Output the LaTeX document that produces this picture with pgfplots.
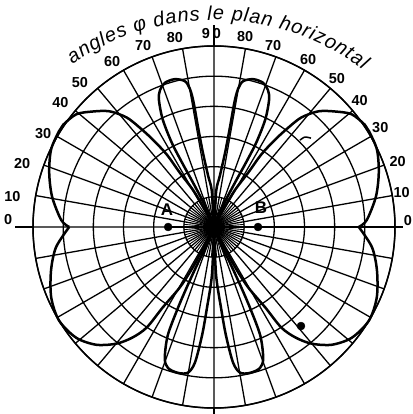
\documentclass[border=0pt]{standalone}
\usepackage{fontspec}
\setmainfont{Liberation Sans}
\newfontfamily\lab{Liberation Sans}
\usepackage{pgfplots}
\pgfplotsset{compat=1.18}
\usepgfplotslibrary{polar}
\usetikzlibrary{calc,decorations.text}
\begin{document}
\begin{tikzpicture}
\begin{polaraxis}[
    width=362bp, height=362bp, scale only axis,
    xmin=0, xmax=360, ymin=0, ymax=6,
    xtick={0,10,...,350}, ytick={1,...,6},
    xticklabels={}, yticklabels={},
    major tick length=0pt,
    grid=major,
    major grid style={black, line width=1.3bp},
    axis line style={black, line width=1.5bp},
    clip=false,
]
\coordinate (c) at (axis cs:0,0);

% dense rays in the inner ring
\pgfplotsinvokeforeach{5,15,...,355}{
  \addplot[black, line width=0.9bp] coordinates {(#1,0) (#1,1)};
}
% axis lines running past the rim
\addplot[black, line width=1.3bp] coordinates {(90,6) (90,6.7)};
\addplot[black, line width=1.3bp] coordinates {(270,6) (270,6.25)};
\addplot[black, line width=1.3bp] coordinates {(180,6) (180,6.6)};
\addplot[black, line width=1.3bp] coordinates {(0,6) (0,6.25)};

% big side lobes
\addplot[black, line width=2.5bp, smooth] coordinates {
  (118,0) (118,0.7) (119.6,1.42) (122.2,2.13) (123.1,2.87) (125,3.54) (126.8,4.12)
  (128.6,4.65) (132.1,5.17) (136.5,5.56) (140.7,5.9) (145.9,6.04) (148.3,6.04)
  (154.6,5.98) (161.8,5.75) (169.4,5.46) (177.4,5.07) (180,4.8)};
\addplot[black, line width=2.5bp, smooth] coordinates {
  (180,4.8) (187.3,5.28) (194.9,5.59) (203.4,5.88) (211.1,6.0) (218.8,5.86)
  (225,5.52) (230.1,5.04) (233.6,4.55) (236.2,4.01) (237.5,3.16) (240.5,2.3)
  (242.3,1.5) (242,0.6) (242,0)};
\addplot[black, line width=2.5bp, smooth] coordinates {
  (62,0) (62,0.7) (60.4,1.42) (57.8,2.13) (56.9,2.87) (55,3.54) (53.2,4.12)
  (51.4,4.65) (47.9,5.17) (43.5,5.56) (39.3,5.9) (34.1,6.04) (31.7,6.04)
  (25.4,5.98) (18.2,5.75) (10.6,5.46) (2.6,5.07) (0,4.8)};
\addplot[black, line width=2.5bp, smooth] coordinates {
  (360,4.8) (352.7,5.28) (345.1,5.59) (336.6,5.88) (328.9,6.0) (321.2,5.86)
  (315,5.52) (309.9,5.04) (306.4,4.55) (303.8,4.01) (302.5,3.16) (299.5,2.3)
  (297.7,1.5) (298,0.6) (298,0)};

% narrow lobes
\addplot[black, line width=2.5bp, smooth] coordinates {
  (94,0) (93.5,1.2) (96.5,1.7) (98.5,2.5) (99.1,3.38) (99.3,4.19) (99.9,4.65)
  (101.3,4.93) (104.9,5.07) (108.8,5.05) (111.5,4.88) (113.4,4.6) (115.5,3.95)
  (116.6,3.13) (116.4,2.39) (115.5,1.73) (114,1.1) (110,0.5) (105,0)};
\addplot[black, line width=2.5bp, smooth] coordinates {
  (86,0) (86.5,1.2) (83.5,1.7) (81.5,2.5) (80.9,3.38) (80.7,4.19) (80.1,4.65)
  (78.7,4.93) (75.1,5.07) (71.2,5.05) (68.5,4.88) (66.6,4.6) (64.5,3.95)
  (63.4,3.13) (63.6,2.39) (64.5,1.73) (66,1.1) (70,0.5) (75,0)};
\addplot[black, line width=2.5bp, smooth] coordinates {
  (268,0) (267.5,1.6) (265,2.71) (263.7,3.62) (262,4.54) (259.8,4.91) (256,4.98)
  (252,4.92) (249.5,4.66) (246.9,3.91) (246,2.95) (245.7,2.12) (246,1.3)
  (249,0.6) (255,0)};
\addplot[black, line width=2.5bp, smooth] coordinates {
  (272,0) (272.5,1.6) (275,2.71) (276.3,3.62) (278,4.54) (280.2,4.91) (284,4.98)
  (288,4.92) (290.5,4.66) (293.1,3.91) (294,2.95) (294.3,2.12) (294,1.3)
  (291,0.6) (285,0)};

% A - B dipole, centre blob, marks
\addplot[black, line width=2.8bp] coordinates {(180,1.52) (0,0) (0,1.46)};
\addplot[black, only marks, mark=*, mark size=4] coordinates {(180,1.52) (0,1.46) (311.3,4.37)};
\addplot[black, only marks, mark=*, mark size=6.5] coordinates {(0,0)};
\addplot[black, line width=1.5bp, smooth] coordinates {(45.3,4.05) (44.7,4.24) (42.5,4.36)};

% angle labels
\begin{scope}[every node/.style={font=\lab\bfseries\fontsize{14.5}{16}\selectfont, inner sep=0pt}]
\node at (axis cs:101.7,6.40) {80};
\node at (axis cs:111.3,6.46) {70};
\node at (axis cs:121.7,6.43) {60};
\node at (axis cs:132.9,6.53) {50};
\node at (axis cs:140.9,6.56) {40};
\node at (axis cs:151.2,6.46) {30};
\node at (axis cs:161.6,6.70) {20};
\node at (axis cs:171.5,6.76) {10};
\node at (axis cs:178,6.83) {0};
\node at (axis cs:90.8,6.43) {9\kern3pt0};
\node at (axis cs:80.7,6.40) {80};
\node at (axis cs:72,6.34) {70};
\node at (axis cs:60.6,6.36) {60};
\node at (axis cs:50.5,6.40) {50};
\node at (axis cs:41,6.40) {40};
\node at (axis cs:31,6.43) {30};
\node at (axis cs:19.5,6.46) {20};
\node at (axis cs:10.5,6.33) {10};
\node at (axis cs:2,6.43) {0};
\end{scope}
\end{polaraxis}

\node[font=\lab\bfseries\fontsize{17}{19}\selectfont] at ($(c)+(-47bp,17bp)$) {A};
\node[font=\lab\bfseries\fontsize{17}{19}\selectfont] at ($(c)+(47bp,19bp)$) {B};

\path[decorate, decoration={text along path, text align={fit to path},
    text={|\lab\itshape\fontsize{20}{22}\selectfont|angles φ dans le plan horizontal}}]
  ($(c)+(0,-40bp)+(125:247bp)$) arc[start angle=125, end angle=53, radius=247bp];

\pgfresetboundingbox
\useasboundingbox ($(c)+(-214bp,227bp)$) rectangle ($(c)+(199bp,-187bp)$);
\end{tikzpicture}
\end{document}
